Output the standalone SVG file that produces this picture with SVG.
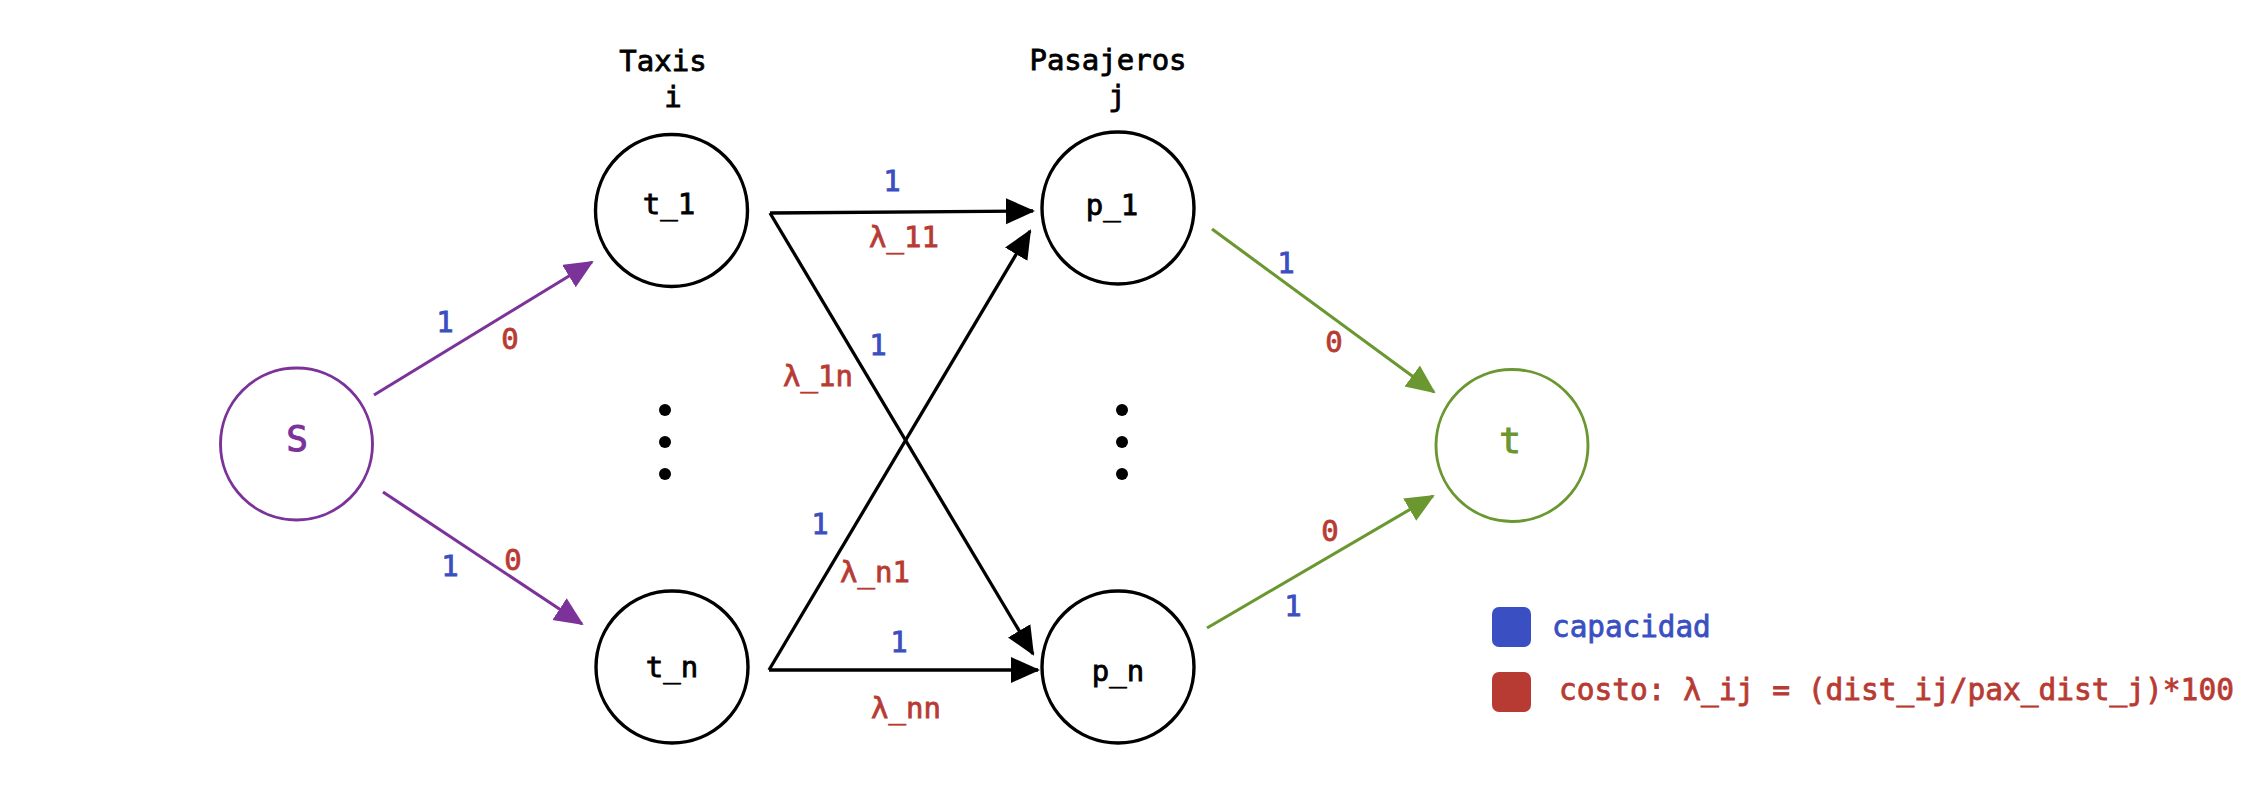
<svg xmlns="http://www.w3.org/2000/svg" width="2266" height="800" viewBox="0 0 2266 800">
<defs>
<style>
text{font-family:"DejaVu Sans Mono","Liberation Mono",monospace;font-size:29px;stroke-width:0.8px;}
.c{text-anchor:middle;}
.blue{fill:#3a4fc1;stroke:#3a4fc1;}
.red{fill:#b83b33;stroke:#b83b33;}
.blk{fill:#000;stroke:#000;}
.node{fill:#fff;stroke:#000;stroke-width:3.4;}
.edge{fill:none;stroke:#000;stroke-width:3.3;}
.pe{fill:none;stroke:#7b3399;stroke-width:3.1;}
.ge{fill:none;stroke:#6a972f;stroke-width:3.1;}
</style>
<marker id="ab" markerUnits="userSpaceOnUse" markerWidth="30" markerHeight="28" refX="27" refY="13" orient="auto"><path d="M0,0 L29,13 L0,26 z" fill="#000"/></marker>
<marker id="ap" markerUnits="userSpaceOnUse" markerWidth="30" markerHeight="28" refX="27" refY="13" orient="auto"><path d="M0,0 L29,13 L0,26 z" fill="#7b3399"/></marker>
<marker id="ag" markerUnits="userSpaceOnUse" markerWidth="30" markerHeight="28" refX="27" refY="13" orient="auto"><path d="M0,0 L29,13 L0,26 z" fill="#6a972f"/></marker>
</defs>
<rect width="2266" height="800" fill="#fff"/>

<g id="connectors">
<line class="pe" x1="374" y1="395" x2="592" y2="262" marker-end="url(#ap)"/>
<line class="pe" x1="383" y1="492" x2="582" y2="624" marker-end="url(#ap)"/>
<line class="edge" x1="770" y1="213" x2="1033" y2="211" marker-end="url(#ab)"/>
<line class="edge" x1="770" y1="213" x2="1033" y2="654" marker-end="url(#ab)"/>
<line class="edge" x1="769" y1="670" x2="1030" y2="231" marker-end="url(#ab)"/>
<line class="edge" x1="769" y1="670" x2="1038" y2="670" marker-end="url(#ab)"/>
<line class="ge" x1="1212" y1="229" x2="1434" y2="392" marker-end="url(#ag)"/>
<line class="ge" x1="1207" y1="628" x2="1433" y2="496" marker-end="url(#ag)"/>
<text class="c blue" x="445" y="332">1</text>
<text class="c red" x="510" y="349">0</text>
<text class="c blue" x="450" y="576">1</text>
<text class="c red" x="513" y="570">0</text>
<text class="c blue" x="892" y="191">1</text>
<text class="c red" x="904" y="247">λ_11</text>
<text class="c blue" x="878" y="355">1</text>
<text class="c red" x="818" y="386">λ_1n</text>
<text class="c blue" x="820" y="534">1</text>
<text class="c red" x="875" y="582">λ_n1</text>
<text class="c blue" x="899" y="652">1</text>
<text class="c red" x="906" y="718">λ_nn</text>
<text class="c blue" x="1286" y="273">1</text>
<text class="c red" x="1334" y="352">0</text>
<text class="c red" x="1330" y="541">0</text>
<text class="c blue" x="1293" y="616">1</text>
</g>

<g id="header-taxis">
<text class="c blk" x="663" y="71">Taxis</text>
<text class="c blk" x="673" y="107">i</text>
</g>
<g id="header-pasajeros">
<text class="c blk" x="1108" y="70">Pasajeros</text>
<text class="c blk" x="1117" y="106">j</text>
</g>

<g id="node-s">
<circle cx="296.5" cy="444" r="76" fill="#fff" stroke="#7b3399" stroke-width="2.9"/>
<text class="c" x="297" y="451" fill="#7b3399" stroke="#7b3399" style="font-size:36px;stroke-width:1px">S</text>
</g>
<g id="node-t1">
<circle class="node" cx="671.5" cy="210.5" r="76"/>
<text class="c blk" x="669" y="214">t_1</text>
</g>
<g id="node-tn">
<circle class="node" cx="672" cy="667" r="76"/>
<text class="c blk" x="672" y="677">t_n</text>
</g>
<g id="node-p1">
<circle class="node" cx="1118" cy="208" r="76"/>
<text class="c blk" x="1112" y="215">p_1</text>
</g>
<g id="node-pn">
<circle class="node" cx="1118" cy="667" r="76"/>
<text class="c blk" x="1118" y="681">p_n</text>
</g>
<g id="node-t">
<circle cx="1512" cy="445.5" r="76" fill="#fff" stroke="#6a972f" stroke-width="2.9"/>
<text class="c" x="1510" y="453" fill="#6a972f" stroke="#6a972f" style="font-size:36px;stroke-width:1px">t</text>
</g>

<g id="dots-taxis">
<circle cx="665" cy="410" r="6"/>
<circle cx="665" cy="442" r="6"/>
<circle cx="665" cy="474" r="6"/>
</g>
<g id="dots-pasajeros">
<circle cx="1122" cy="410" r="6"/>
<circle cx="1122" cy="442" r="6"/>
<circle cx="1122" cy="474" r="6"/>
</g>

<g id="legend">
<rect x="1492" y="607" width="39" height="40" rx="7" fill="#3a4fc1"/>
<text class="blue" x="1552" y="637" style="font-size:29.3px">capacidad</text>
<rect x="1492" y="672" width="39" height="40" rx="7" fill="#b83b33"/>
<text class="red" x="1559" y="700" style="font-size:29.5px">costo: λ_ij = (dist_ij/pax_dist_j)*100</text>
</g>
</svg>
